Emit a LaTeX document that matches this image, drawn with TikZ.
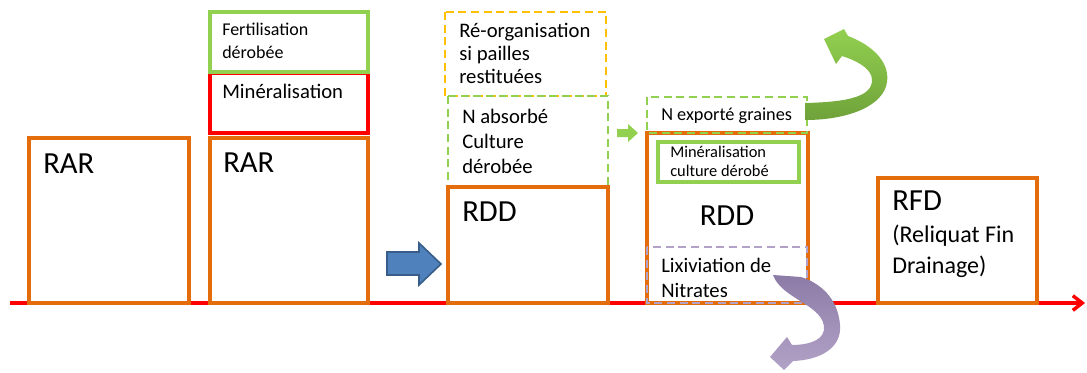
\documentclass[tikz,border=0pt]{standalone}
\usepackage{fontspec}
\setmainfont{Carlito}
\usetikzlibrary{arrows.meta}
\definecolor{arancio}{HTML}{E46C0A}
\definecolor{verde}{HTML}{92D050}
\definecolor{verdescuro}{HTML}{6FA23A}
\definecolor{giallo}{HTML}{FFC000}
\definecolor{lilla}{HTML}{B3A2C7}
\definecolor{lillascuro}{HTML}{8C7BA6}
\definecolor{blu}{HTML}{4F81BD}
\definecolor{bluscuro}{HTML}{385D8A}
\begin{document}
\begin{tikzpicture}[x=0.75pt,y=-0.75pt,
    box/.style={draw=arancio,line width=3pt},
    tratt/.style={line width=2.2pt,dash pattern=on 6pt off 3.5pt},
    txt/.style={anchor=base west,inner sep=0pt},
    grande/.style={font=\fontsize{23}{27}\selectfont},
    medio/.style={font=\fontsize{15.5}{18}\selectfont},
    piccolo/.style={font=\fontsize{12.3}{14}\selectfont}]
    \useasboundingbox (0,0) rectangle (1087,372);
    %asse del tempo
    \draw[red,line width=2.6pt,-{Straight Barb[length=7pt,width=11pt]}] (10,303) -- (1085,303);
    %RAR
    \draw[box] (29,138) rectangle (189,303);
    \node[txt,grande] (rar1) at (43,173) {RAR};
    \draw[box] (210,138) rectangle (368,303);
    \node[txt,grande] (rar2) at (223,172) {RAR};
    \draw[red,line width=3.2pt] (210,73) rectangle (368,133);
    \node[txt,medio] (mine) at (222,98) {Minéralisation};
    \draw[verde,line width=2.8pt] (210,12) rectangle (368,72);
    \node[txt,font=\fontsize{13.5}{16}\selectfont] (fert1) at (222,35) {Fertilisation};
    \node[txt,font=\fontsize{13.5}{16}\selectfont] (fert2) at (222,58) {dérobée};
    %freccia blu
    \draw[fill=blu,draw=bluscuro,line width=1.2pt] (387,252) -- (419,252) -- (419,243) -- (441,264)
        -- (419,285) -- (419,275) -- (387,275) -- cycle;
    %RDD
    \draw[giallo,tratt] (445,12) rectangle (606,96);
    \node[txt,medio] (reorg1) at (459,37) {Ré-organisation};
    \node[txt,medio] (reorg2) at (459,60) {si pailles};
    \node[txt,medio] (reorg3) at (459,83) {restituées};
    \draw[verde,tratt] (448,96) rectangle (608,187);
    \node[txt,medio] (nabs1) at (462,123) {N absorbé};
    \node[txt,medio] (nabs2) at (462,148) {Culture};
    \node[txt,medio] (nabs3) at (462,173) {dérobée};
    \draw[box] (448,187) rectangle (608,303);
    \node[txt,grande] (rdd1) at (462,221) {RDD};
    \fill[verde] (617,129) -- (628,129) -- (628,124) -- (638,133) -- (628,142) -- (628,137) -- (617,137) -- cycle;
    %RDD dopo
    \draw[box] (647,133) rectangle (808,303);
    \draw[verde,tratt] (647,97) rectangle (807,133);
    \node[txt,font=\fontsize{13.7}{16}\selectfont] (nexp) at (661,120) {N exporté graines};
    \draw[verde,line width=2.8pt] (658,142) rectangle (799,182);
    \node[txt,piccolo] (minc1) at (670,157) {Minéralisation};
    \node[txt,piccolo] (minc2) at (670,176) {culture dérobé};
    \node[grande,anchor=base,inner sep=0pt] (rdd2) at (727,225) {RDD};
    \draw[lilla,tratt] (647,247) rectangle (807,303);
    \node[txt,medio] (lix1) at (661,272) {Lixiviation de};
    \node[txt,medio] (lix2) at (661,297) {Nitrates};
    %frecce curve
    \shade[top color=verde,bottom color=verdescuro] (805,103) .. controls (850,102) and (872,96) .. (872,80)
        .. controls (872,68) and (855,60) .. (842,56) -- (836,64) -- (824,39) -- (844,29) -- (848,36)
        .. controls (872,45) and (890,62) .. (887,82) .. controls (884,105) and (850,120) .. (805,120) -- cycle;
    \shade[top color=lillascuro,bottom color=lilla] (773,275) .. controls (782,300) and (826,305) .. (824,330)
        .. controls (822,342) and (805,345) .. (792,345) -- (787,337) -- (770,357) -- (784,370) -- (793,361)
        .. controls (820,360) and (842,348) .. (840,325) .. controls (838,298) and (820,283) .. (801,277) -- cycle;
    %RFD
    \draw[box] (878,178) rectangle (1037,303);
    \node[txt,grande] (rfd1) at (892,210) {RFD};
    \node[txt,font=\fontsize{18}{21}\selectfont] (rfd2) at (892,242) {(Reliquat Fin};
    \node[txt,font=\fontsize{18}{21}\selectfont] (rfd3) at (892,273) {Drainage)};
\end{tikzpicture}
\end{document}
